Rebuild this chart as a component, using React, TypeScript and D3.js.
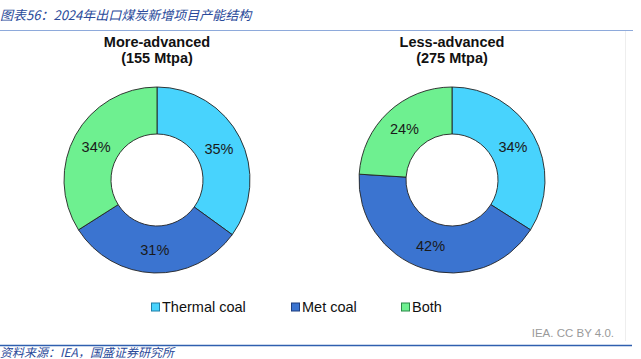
import React from 'react'
import * as d3 from 'd3'

const categories = ['Thermal coal', 'Met coal', 'Both']
const colors = ['#48d3fd', '#3b74d0', '#6ef090']
const borderColors = ['#1f7fa8', '#1f3f80', '#2a8a48']

const groups = ['More-advanced', 'Less-advanced']
const capacities = ['(155 Mtpa)', '(275 Mtpa)']
const moreAdvanced = [35, 31, 34]
const lessAdvanced = [34, 42, 24]

const title = '图表56：2024年出口煤炭新增项目产能结构'
const source = '资料来源：IEA，国盛证券研究所'
const credit = 'IEA. CC BY 4.0.'

const W = 641
const H = 359

function Donut({ cx, cy, values, name, cap }: { cx: number; cy: number; values: number[]; name: string; cap: string }) {
  const outer = 93
  const inner = 46
  const pie = d3.pie<number>().sort(null).value(d => d)
  const arc = d3.arc<d3.PieArcDatum<number>>().innerRadius(inner).outerRadius(outer)
  const arcs = pie(values)
  return (
    <g>
      <text x={cx} y={47} textAnchor="middle" fontSize={14.5} fontWeight="bold" fill="#111">{name}</text>
      <text x={cx} y={63} textAnchor="middle" fontSize={14.5} fontWeight="bold" fill="#111">{cap}</text>
      <g transform={`translate(${cx},${cy})`}>
        {arcs.map((a, i) => (
          <path key={i} d={arc(a) || ''} fill={colors[i]} stroke="#222" strokeWidth={0.9} />
        ))}
        {arcs.map((a, i) => {
          const [x, y] = arc.centroid(a)
          return (
            <text key={'t' + i} x={x} y={y} dy="0.35em" textAnchor="middle" fontSize={14.5} fill="#1a1a1a">
              {values[i]}%
            </text>
          )
        })}
      </g>
    </g>
  )
}

export default function App() {
  const legendX = [155, 295, 405]
  return (
    <svg width={W} height={H} style={{ position: 'absolute', left: 0, top: 0, fontFamily: 'Liberation Sans, Arial, sans-serif' }}>
      <rect width={W} height={H} fill="#fff" />
      <text x={0} y={20} fontSize={13} fontStyle="italic" fill="#2a4a9a" fontFamily="Noto Sans CJK SC, sans-serif">{title}</text>
      <line x1={0} x2={633} y1={30.5} y2={30.5} stroke="#8eaadb" strokeWidth={1.2} />
      <line x1={625.5} x2={625.5} y1={31} y2={341} stroke="#eee" strokeWidth={1} />
      <Donut cx={157} cy={180} values={moreAdvanced} name={groups[0]} cap={capacities[0]} />
      <Donut cx={452} cy={180} values={lessAdvanced} name={groups[1]} cap={capacities[1]} />
      {categories.map((c, i) => (
        <g key={c}>
          <rect x={legendX[i] - 3.5} y={303} width={8} height={8} fill={colors[i]} stroke={borderColors[i]} strokeWidth={1} />
          <text x={legendX[i] + 7} y={312} fontSize={14.5} fill="#111">{c}</text>
        </g>
      ))}
      <text x={614} y={337} textAnchor="end" fontSize={11.5} fill="#9a9a9a">{credit}</text>
      <line x1={0} x2={632} y1={345.5} y2={345.5} stroke="#2f5faf" strokeWidth={1.3} />
      <text x={0} y={357} fontSize={12} fontStyle="italic" fill="#2a4a9a" fontFamily="Noto Sans CJK SC, sans-serif">{source}</text>
    </svg>
  )
}
